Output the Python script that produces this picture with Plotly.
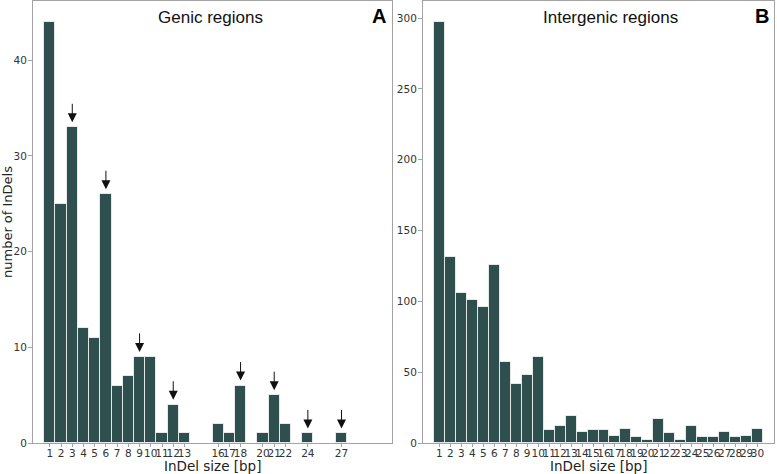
import plotly.graph_objects as go

# ---- data ----
genic_sizes = [1, 2, 3, 4, 5, 6, 7, 8, 9, 10, 11, 12, 13, 16, 17, 18, 20, 21, 22, 24, 27]
genic_counts = [44, 25, 33, 12, 11, 26, 6, 7, 9, 9, 1, 4, 1, 2, 1, 6, 1, 5, 2, 1, 1]
genic_arrow_sizes = [3, 6, 9, 12, 18, 21, 24, 27]

intergenic_sizes = list(range(1, 31))
intergenic_counts = [297, 131, 106, 101, 96, 126, 57, 42, 48, 61,
                     9, 12, 19, 8, 9, 9, 5, 10, 4, 2,
                     17, 7, 2, 12, 4, 4, 8, 4, 5, 10]

genic_yticks = [0, 10, 20, 30, 40]
intergenic_yticks = [0, 50, 100, 150, 200, 250, 300]

BAR_COLOR = "#2F4F4F"
FRAME = "#a3a3a3"
TICKFONT = dict(family="DejaVu Sans", size=10.5, color="#333333")
TITLEFONT = dict(family="DejaVu Sans", size=13.5, color="#222222")

W, H = 777, 474

fig = go.Figure()
fig.add_trace(go.Bar(x=genic_sizes, y=genic_counts, width=1,
                     marker=dict(color=BAR_COLOR, line=dict(color="rgba(255,255,255,0.75)", width=1)),
                     xaxis="x", yaxis="y", showlegend=False))
fig.add_trace(go.Bar(x=intergenic_sizes, y=intergenic_counts, width=1,
                     marker=dict(color=BAR_COLOR, line=dict(color="rgba(255,255,255,0.75)", width=1)),
                     xaxis="x2", yaxis="y2", showlegend=False))

common_x = dict(range=[-0.5, 31.5], showline=True, mirror=True, linecolor=FRAME, linewidth=1,
                ticks="outside", ticklen=3, tickcolor=FRAME, showgrid=False, zeroline=False,
                tickfont=TICKFONT, tickangle=0, automargin=False, ticklabelstandoff=-3)
common_y = dict(showline=True, mirror=True, linecolor=FRAME, linewidth=1,
                ticks="outside", ticklen=4, tickcolor=FRAME, showgrid=False, zeroline=False,
                tickfont=TICKFONT, automargin=False, ticklabelstandoff=-1)

ydom = [1 - 443 / H, 1 - 1 / H]
xdom1 = [33 / W, 392 / W]
xdom2 = [423 / W, 774 / W]
fig.update_layout(
    width=W, height=H,
    margin=dict(l=0, r=0, t=0, b=0),
    paper_bgcolor="white", plot_bgcolor="white",
    bargap=0,
    xaxis=dict(common_x, domain=xdom1, anchor="y",
               tickmode="array", tickvals=genic_sizes, ticktext=[str(v) for v in genic_sizes]),
    yaxis=dict(common_y, domain=ydom, anchor="x", range=[0, 46.2],
               tickmode="array", tickvals=genic_yticks),
    xaxis2=dict(common_x, domain=xdom2, anchor="y2",
                tickmode="array", tickvals=intergenic_sizes, ticktext=[str(v) for v in intergenic_sizes]),
    yaxis2=dict(common_y, domain=ydom, anchor="x2", range=[0, 312],
                tickmode="array", tickvals=intergenic_yticks),
)

annotations = []
for s in genic_arrow_sizes:
    c = genic_counts[genic_sizes.index(s)]
    annotations.append(dict(x=s, y=c, xref="x", yref="y", text="", showarrow=True,
                            ax=0, ay=-25, arrowhead=2, arrowsize=1.8, arrowwidth=1,
                            arrowcolor="#111111", standoff=5))

annotations += [
    dict(x=210 / W, y=1 - 17 / H, xref="paper", yref="paper", text="Genic regions",
         showarrow=False, font=dict(family="Liberation Sans, Arial", size=17, color="#111111"),
         xanchor="center", yanchor="middle"),
    dict(x=379 / W, y=1 - 16 / H, xref="paper", yref="paper", text="<b>A</b>",
         showarrow=False, font=dict(family="Liberation Sans, Arial", size=20, color="#000000"),
         xanchor="center", yanchor="middle"),
    dict(x=610 / W, y=1 - 17 / H, xref="paper", yref="paper", text="Intergenic regions",
         showarrow=False, font=dict(family="Liberation Sans, Arial", size=17, color="#111111"),
         xanchor="center", yanchor="middle"),
    dict(x=762 / W, y=1 - 16 / H, xref="paper", yref="paper", text="<b>B</b>",
         showarrow=False, font=dict(family="Liberation Sans, Arial", size=20, color="#000000"),
         xanchor="center", yanchor="middle"),
    # axis titles
    dict(x=(xdom1[0] + xdom1[1]) / 2, y=1 - 466 / H, xref="paper", yref="paper",
         text="InDel size [bp]", showarrow=False, font=TITLEFONT,
         xanchor="center", yanchor="middle"),
    dict(x=(xdom2[0] + xdom2[1]) / 2, y=1 - 466 / H, xref="paper", yref="paper",
         text="InDel size [bp]", showarrow=False, font=TITLEFONT,
         xanchor="center", yanchor="middle"),
    dict(x=7 / W, y=1 - 222 / H, xref="paper", yref="paper",
         text="number of InDels", showarrow=False,
         font=dict(family="DejaVu Sans", size=13, color="#222222"), textangle=-90,
         xanchor="center", yanchor="middle"),
]
fig.update_layout(annotations=annotations)

fig.write_html("out.html", config={"displayModeBar": False},
               post_script="document.body.style.margin='0';document.body.style.overflow='hidden';")
